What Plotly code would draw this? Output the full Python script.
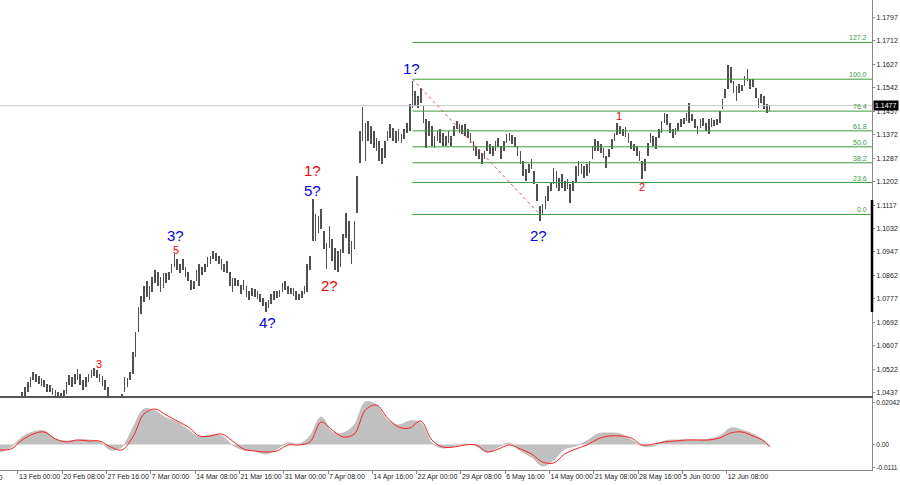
import plotly.graph_objects as go

# ---------------- data ----------------
# 8-hour candles (index in H4-bar units, step 2); prices in pips above 1.0000
bar_high_pips = [
    345, 350, 372, 390, 388, 360, 392, 425, 440, 457,
    476, 494, 512, 505, 498, 490, 483, 469, 465, 454,
    447, 440, 436, 447, 476, 501, 494, 505, 523, 505,
    483, 494, 505, 520, 527, 520, 505, 498, 483, 457,
    420, 405, 395, 410, 432, 494, 490, 512, 585, 658,
    749, 789, 822, 840, 822, 858, 883, 876, 858, 869,
    869, 876, 905, 938, 920, 905, 920, 891, 876, 847,
    840, 883, 902, 894, 905, 927, 934, 949, 945, 931,
    920, 905, 913, 876, 851, 851, 847, 829, 847, 822,
    804, 818, 814, 804, 796, 782, 767, 774, 793, 804,
    804, 811, 833, 840, 825, 818, 818, 804, 796, 804,
    822, 905, 931, 1138, 1084, 1076, 1102, 1022, 978, 1040,
    993, 960, 949, 956, 1011, 1087, 1058, 985, 1058, 1222,
    1386, 1473, 1415, 1422, 1404, 1386, 1360, 1349, 1324, 1349,
    1386, 1411, 1397, 1386, 1393, 1375, 1393, 1415, 1484, 1568,
    1531, 1513, 1542, 1477, 1429, 1422, 1404, 1368, 1386, 1393,
    1378, 1368, 1386, 1368, 1404, 1422, 1411, 1408, 1411, 1393,
    1378, 1349, 1331, 1320, 1306, 1313, 1349, 1338, 1331, 1349,
    1360, 1331, 1349, 1375, 1378, 1371, 1364, 1331, 1313, 1277,
    1247, 1266, 1284, 1240, 1193, 1113, 1120, 1149, 1186, 1197,
    1251, 1240, 1215, 1229, 1204, 1211, 1193, 1204, 1258, 1277,
    1266, 1258, 1266, 1277, 1331, 1357, 1349, 1338, 1324, 1295,
    1320, 1357, 1378, 1415, 1404, 1393, 1400, 1378, 1349, 1338,
    1331, 1313, 1277, 1284, 1342, 1378, 1368, 1364, 1393, 1422,
    1451, 1448, 1415, 1393, 1397, 1415, 1429, 1433, 1451, 1488,
    1448, 1429, 1404, 1429, 1433, 1415, 1429, 1433, 1426, 1429,
    1459, 1502, 1539, 1626, 1619, 1568, 1550, 1557, 1553, 1586,
    1611, 1575, 1575, 1542, 1506, 1520, 1513, 1484, 1480,
]
bar_low_pips = [
    305, 318, 335, 355, 340, 316, 350, 395, 415, 421,
    439, 458, 483, 476, 469, 461, 458, 439, 439, 428,
    421, 414, 410, 418, 432, 465, 458, 469, 483, 465,
    447, 458, 476, 490, 498, 490, 476, 461, 447, 403,
    380, 365, 360, 370, 403, 440, 458, 483, 505, 567,
    658, 723, 767, 785, 774, 803, 833, 822, 803, 818,
    833, 847, 869, 894, 883, 869, 883, 858, 840, 811,
    814, 840, 822, 865, 876, 894, 905, 920, 913, 902,
    883, 876, 869, 822, 803, 822, 822, 796, 811, 785,
    774, 789, 785, 778, 767, 752, 731, 745, 760, 774,
    782, 785, 803, 811, 796, 793, 789, 774, 774, 782,
    796, 803, 883, 985, 985, 1014, 1029, 956, 887, 960,
    913, 883, 876, 894, 942, 996, 938, 905, 956, 1087,
    1269, 1349, 1277, 1349, 1338, 1324, 1313, 1277, 1266, 1288,
    1349, 1360, 1349, 1342, 1349, 1342, 1357, 1378, 1386, 1469,
    1477, 1469, 1488, 1415, 1324, 1368, 1331, 1324, 1349, 1342,
    1331, 1331, 1342, 1331, 1368, 1393, 1378, 1375, 1368, 1360,
    1342, 1313, 1295, 1284, 1266, 1284, 1313, 1302, 1295, 1313,
    1328, 1284, 1313, 1342, 1349, 1338, 1328, 1295, 1266, 1222,
    1204, 1233, 1247, 1193, 1131, 1058, 1084, 1102, 1131, 1167,
    1193, 1178, 1167, 1178, 1167, 1175, 1124, 1167, 1197, 1222,
    1229, 1215, 1222, 1233, 1284, 1313, 1313, 1306, 1288, 1251,
    1291, 1320, 1349, 1371, 1375, 1368, 1364, 1342, 1320, 1313,
    1295, 1277, 1211, 1240, 1295, 1342, 1331, 1320, 1360, 1378,
    1415, 1408, 1378, 1360, 1371, 1386, 1400, 1411, 1422, 1415,
    1422, 1397, 1375, 1397, 1404, 1386, 1375, 1400, 1404, 1408,
    1415, 1466, 1506, 1539, 1560, 1524, 1495, 1524, 1531, 1550,
    1568, 1539, 1546, 1506, 1470, 1488, 1466, 1451, 1459,
]

# oscillator sampled every 8 H4 bars
osc_index = [8 * j for j in range(70)] + [556]
osc_hist = [
    -0.00365, -0.00122, 0.00365, 0.00608, 0.00656, 0.00267, 0.00170, 0.00219, 0.00219, 0.00122,
    -0.00267, -0.00122, 0.00802, 0.01725, 0.01628, 0.01288, 0.01094, 0.00705, 0.00365, 0.00462,
    0.00413, -0.00024, -0.00267, -0.00316, -0.00462, -0.00219, 0.00073, 0.00024, 0.00413, 0.01337,
    0.00608, 0.00559, 0.00948, 0.02066, 0.01920, 0.01191, 0.00948, 0.01142, 0.01045, 0.00073,
    -0.00170, -0.00073, 0.00024, -0.00073, -0.00365, -0.00122, 0.00073, -0.00316, -0.00608, -0.01045,
    -0.00753, -0.00219, -0.00073, 0.00170, 0.00510, 0.00559, 0.00510, 0.00219, -0.00073, -0.00073,
    0.00170, 0.00219, 0.00219, 0.00219, 0.00267, 0.00413, 0.00802, 0.00705, 0.00510, 0.00170,
    -0.00073,
]
osc_signal = [
    -0.00267, -0.00219, 0.00219, 0.00510, 0.00608, 0.00267, 0.00122, 0.00219, 0.00170, 0.00170,
    -0.00122, -0.00267, 0.00365, 0.01482, 0.01725, 0.01434, 0.01142, 0.00851, 0.00413, 0.00413,
    0.00510, 0.00170, -0.00219, -0.00316, -0.00365, -0.00316, -0.00024, -0.00024, 0.00122, 0.01094,
    0.00705, 0.00365, 0.00510, 0.01677, 0.01920, 0.01288, 0.00851, 0.00802, 0.01142, 0.00219,
    -0.00122, -0.00122, -0.00024, -0.00024, -0.00365, -0.00219, -0.00024, -0.00219, -0.00462, -0.00851,
    -0.00899, -0.00462, -0.00219, -0.00024, 0.00267, 0.00413, 0.00413, 0.00316, -0.00024, 0.00024,
    0.00122, 0.00170, 0.00219, 0.00219, 0.00219, 0.00316, 0.00559, 0.00608, 0.00413, 0.00170,
    -0.00122,
]

date_labels = ["13 Feb 00:00", "20 Feb 08:00", "27 Feb 16:00", "7 Mar 00:00", "14 Mar 08:00",
               "21 Mar 16:00", "31 Mar 00:00", "7 Apr 08:00", "14 Apr 16:00", "22 Apr 00:00",
               "29 Apr 08:00", "6 May 16:00", "14 May 00:00", "21 May 08:00", "28 May 16:00",
               "5 Jun 00:00", "12 Jun 08:00"]
date_tick_index = [13 + 32 * j for j in range(len(date_labels))]

price_ticks = [1.0437, 1.0522, 1.0607, 1.0692, 1.0777, 1.0862, 1.0947, 1.1032, 1.1117,
               1.1202, 1.1287, 1.1372, 1.1457, 1.1542, 1.1627, 1.1712, 1.1797]
last_price = 1.1477

fib_levels = [0.0, 23.6, 38.2, 50.0, 61.8, 76.4, 100.0, 127.2]
fib_high, fib_low = 1.1573, 1.1083
fib_high_index, fib_low_index = 298, 390

wave_labels = [  # text, bar index, price, colour, size
    ("1?", 297, 1.1613, "blue", 15), ("1?", 226, 1.1244, "red", 15),
    ("5?", 226, 1.1171, "blue", 15), ("3?", 127, 1.1008, "blue", 15),
    ("5", 127, 1.0955, "red", 11), ("4?", 193, 1.0690, "blue", 15),
    ("2?", 238, 1.0824, "red", 15), ("2?", 389, 1.1005, "blue", 15),
    ("3", 71.5, 1.0541, "red", 11), ("1", 447, 1.1439, "red", 11),
    ("2", 464, 1.1182, "red", 11),
]

# ---------------- figure ----------------
XMAX = 630
FONT = "Liberation Sans"
GREEN = "#3d9b3d"
fig = go.Figure()

idx = [2 * k for k in range(len(bar_high_pips))]
hi = [1 + p / 10000 for p in bar_high_pips]
lo = [1 + p / 10000 for p in bar_low_pips]
fig.add_trace(go.Bar(x=idx, y=[h - l for h, l in zip(hi, lo)], base=lo, width=1.2,
                     marker=dict(color="#505050", line=dict(width=0)),
                     xaxis="x2", yaxis="y2"))

# bid line
fig.add_trace(go.Scatter(x=[0, XMAX], y=[last_price, last_price], mode="lines",
                         line=dict(color="#c8c8c8", width=1), xaxis="x2", yaxis="y2"))

# fibonacci
for lv in fib_levels:
    p = fib_low + (fib_high - fib_low) * lv / 100
    fig.add_trace(go.Scatter(x=[fib_high_index, XMAX], y=[p, p], mode="lines",
                             line=dict(color=GREEN, width=1), xaxis="x2", yaxis="y2"))
    fig.add_annotation(x=0.9966, xref="paper", y=p, yref="y2", text=f"{lv:.1f}",
                       showarrow=False, xanchor="right", yanchor="bottom", yshift=-1,
                       font=dict(family=FONT, size=7, color=GREEN))
fig.add_trace(go.Scatter(x=[fib_high_index, fib_low_index], y=[fib_high, fib_low], mode="lines",
                         line=dict(color="#ff5050", width=1, dash="dot"), xaxis="x2", yaxis="y2"))

for t, xi, pr, col, sz in wave_labels:
    fig.add_annotation(x=xi, y=pr, xref="x2", yref="y2", text=t, showarrow=False,
                       font=dict(family=FONT, size=sz, color=col))

# oscillator
fig.add_trace(go.Scatter(x=osc_index, y=osc_hist, mode="lines", fill="tozeroy",
                         fillcolor="#c0c0c0", line=dict(color="#c0c0c0", width=1, shape="spline"),
                         xaxis="x", yaxis="y"))
fig.add_trace(go.Scatter(x=osc_index, y=osc_signal, mode="lines",
                         line=dict(color="#ff2020", width=1, shape="spline"),
                         xaxis="x", yaxis="y"))

# price box
fig.add_annotation(x=1, xref="paper", y=last_price, yref="y2", text=f"{last_price:.4f}",
                   showarrow=False, xanchor="left", xshift=1, bgcolor="black", borderpad=1,
                   font=dict(family=FONT, size=7, color="white"))
# left cut-off date label
fig.add_annotation(x=4 / 872, xref="paper", y=0, yref="paper", text="6 Feb 16:00",
                   showarrow=False, xanchor="right", yanchor="top", yshift=-2,
                   font=dict(family=FONT, size=7, color="#222"))
# scale bar on the price axis
fig.add_shape(type="line", xref="paper", yref="paper", x0=1.0, x1=1.0, y0=0.3362, y1=0.5745,
              line=dict(color="black", width=2.5))

tickfont = dict(family=FONT, size=7, color="#222")
fig.update_layout(
    width=900, height=485, margin=dict(l=0, r=28, t=0, b=15, pad=0),
    paper_bgcolor="white", plot_bgcolor="white", showlegend=False, bargap=0,
    xaxis=dict(domain=[0, 1], range=[0, XMAX], anchor="y", tickvals=date_tick_index,
               ticktext=date_labels, ticks="outside", ticklen=3, tickcolor="#888",
               tickangle=0, ticklabelposition="outside right", showgrid=False, zeroline=False,
               showline=True, linecolor="#888", linewidth=1, mirror=True,
               tickfont=tickfont, automargin=False),
    xaxis2=dict(domain=[0, 1], range=[0, XMAX], anchor="y2", matches="x",
                showticklabels=False, ticks="", showgrid=False, zeroline=False,
                showline=True, linecolor="#555", linewidth=2, automargin=False),
    yaxis=dict(domain=[0, 0.1532], range=[-0.0124, 0.0226], side="right", anchor="x",
               tickvals=[0.02042, 0.0, -0.0111], ticktext=["0.02042", "0.00", "-0.0111"],
               ticks="outside", ticklen=2, tickcolor="#888", showgrid=False, zeroline=False,
               showline=True, linecolor="#888", linewidth=1,
               tickfont=dict(family=FONT, size=6.5, color="#222"), automargin=False),
    yaxis2=dict(domain=[0.1574, 1], range=[1.0425, 1.1860], side="right", anchor="x2",
                tickvals=price_ticks, ticktext=[f"{v:.4f}" for v in price_ticks],
                ticks="outside", ticklen=2, tickcolor="#888", showgrid=False, zeroline=False,
                showline=True, linecolor="#888", linewidth=1, tickfont=tickfont, automargin=False),
)

fig.write_html("out.html", config={"staticPlot": True},
               post_script="document.body.style.margin='0';document.body.style.overflow='hidden';")
